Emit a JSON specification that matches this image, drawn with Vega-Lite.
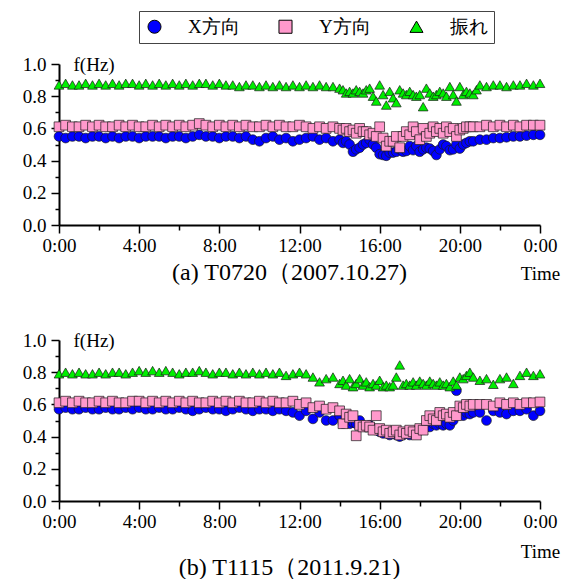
{
 "$schema": "https://vega.github.io/schema/vega-lite/v6.json",
 "background": "white",
 "padding": {"left": 22, "top": 10, "right": 5, "bottom": 2},
 "spacing": 46,
 "config": {
  "view": {"stroke": null},
  "font": "Liberation Serif, Times New Roman, serif",
  "axis": {"grid": false, "labelFont": "Liberation Serif, Times New Roman, serif", "labelFontSize": 19, "labelColor": "black", "titleFont": "Liberation Serif, Times New Roman, serif", "titleFontSize": 19, "titleFontWeight": "normal", "titleColor": "black", "domainColor": "black", "domainWidth": 2, "tickColor": "black", "tickWidth": 1.5},
  "legend": {"labelFont": "Liberation Serif, Times New Roman, serif"},
  "title": {"font": "Liberation Serif, Times New Roman, serif", "fontSize": 24, "fontWeight": "normal", "color": "black"}
 },
 "datasets": {
  "a": [
   {"t":0,"s":"X方向","f":0.55},{"t":0.33,"s":"X方向","f":0.54},{"t":0.67,"s":"X方向","f":0.55},{"t":1,"s":"X方向","f":0.55},{"t":1.33,"s":"X方向","f":0.54},{"t":1.67,"s":"X方向","f":0.55},{"t":2,"s":"X方向","f":0.55},{"t":2.33,"s":"X方向","f":0.54},{"t":2.67,"s":"X方向","f":0.55},{"t":3,"s":"X方向","f":0.54},{"t":3.33,"s":"X方向","f":0.55},{"t":3.67,"s":"X方向","f":0.55},{"t":4,"s":"X方向","f":0.54},{"t":4.33,"s":"X方向","f":0.55},{"t":4.67,"s":"X方向","f":0.55},{"t":5,"s":"X方向","f":0.55},{"t":5.33,"s":"X方向","f":0.54},{"t":5.67,"s":"X方向","f":0.55},{"t":6,"s":"X方向","f":0.55},{"t":6.33,"s":"X方向","f":0.54},{"t":6.67,"s":"X方向","f":0.55},{"t":7,"s":"X方向","f":0.56},{"t":7.33,"s":"X方向","f":0.55},{"t":7.67,"s":"X方向","f":0.55},{"t":8,"s":"X方向","f":0.54},{"t":8.33,"s":"X方向","f":0.55},{"t":8.67,"s":"X方向","f":0.55},{"t":9,"s":"X方向","f":0.54},{"t":9.33,"s":"X方向","f":0.55},{"t":9.67,"s":"X方向","f":0.53},{"t":10,"s":"X方向","f":0.52},{"t":10.33,"s":"X方向","f":0.54},{"t":10.67,"s":"X方向","f":0.55},{"t":11,"s":"X方向","f":0.53},{"t":11.33,"s":"X方向","f":0.54},{"t":11.67,"s":"X方向","f":0.52},{"t":12,"s":"X方向","f":0.53},{"t":12.33,"s":"X方向","f":0.54},{"t":12.67,"s":"X方向","f":0.55},{"t":13,"s":"X方向","f":0.53},{"t":13.33,"s":"X方向","f":0.54},{"t":13.67,"s":"X方向","f":0.52},
   {"t":14,"s":"X方向","f":0.53},{"t":14.17,"s":"X方向","f":0.51},{"t":14.33,"s":"X方向","f":0.52},{"t":14.5,"s":"X方向","f":0.5},{"t":14.67,"s":"X方向","f":0.455},{"t":14.83,"s":"X方向","f":0.47},{"t":15,"s":"X方向","f":0.48},{"t":15.17,"s":"X方向","f":0.5},{"t":15.33,"s":"X方向","f":0.51},{"t":15.5,"s":"X方向","f":0.53},{"t":15.67,"s":"X方向","f":0.5},{"t":15.83,"s":"X方向","f":0.48},{"t":16,"s":"X方向","f":0.44},{"t":16.17,"s":"X方向","f":0.435},{"t":16.33,"s":"X方向","f":0.43},{"t":16.5,"s":"X方向","f":0.45},{"t":16.67,"s":"X方向","f":0.45},{"t":16.83,"s":"X方向","f":0.455},{"t":17,"s":"X方向","f":0.47},{"t":17.17,"s":"X方向","f":0.455},{"t":17.33,"s":"X方向","f":0.46},{"t":17.5,"s":"X方向","f":0.49},{"t":17.67,"s":"X方向","f":0.465},{"t":17.83,"s":"X方向","f":0.49},{"t":18,"s":"X方向","f":0.455},{"t":18.17,"s":"X方向","f":0.47},{"t":18.33,"s":"X方向","f":0.48},{"t":18.5,"s":"X方向","f":0.475},{"t":18.67,"s":"X方向","f":0.46},{"t":18.83,"s":"X方向","f":0.435},{"t":19,"s":"X方向","f":0.47},{"t":19.17,"s":"X方向","f":0.5},{"t":19.33,"s":"X方向","f":0.49},{"t":19.5,"s":"X方向","f":0.465},{"t":19.67,"s":"X方向","f":0.47},{"t":19.83,"s":"X方向","f":0.5},{"t":20,"s":"X方向","f":0.475},{"t":20.17,"s":"X方向","f":0.5},{"t":20.33,"s":"X方向","f":0.51},{"t":20.5,"s":"X方向","f":0.52},{"t":20.67,"s":"X方向","f":0.52},{"t":21,"s":"X方向","f":0.53},{"t":21.33,"s":"X方向","f":0.53},{"t":21.67,"s":"X方向","f":0.54},{"t":22,"s":"X方向","f":0.54},{"t":22.33,"s":"X方向","f":0.545},{"t":22.67,"s":"X方向","f":0.55},{"t":23,"s":"X方向","f":0.55},{"t":23.33,"s":"X方向","f":0.555},{"t":23.67,"s":"X方向","f":0.56},{"t":24,"s":"X方向","f":0.56},
   {"t":0,"s":"Y方向","f":0.61},{"t":0.33,"s":"Y方向","f":0.62},{"t":0.67,"s":"Y方向","f":0.61},{"t":1,"s":"Y方向","f":0.61},{"t":1.33,"s":"Y方向","f":0.62},{"t":1.67,"s":"Y方向","f":0.61},{"t":2,"s":"Y方向","f":0.62},{"t":2.33,"s":"Y方向","f":0.61},{"t":2.67,"s":"Y方向","f":0.61},{"t":3,"s":"Y方向","f":0.62},{"t":3.33,"s":"Y方向","f":0.61},{"t":3.67,"s":"Y方向","f":0.62},{"t":4,"s":"Y方向","f":0.61},{"t":4.33,"s":"Y方向","f":0.61},{"t":4.67,"s":"Y方向","f":0.62},{"t":5,"s":"Y方向","f":0.61},{"t":5.33,"s":"Y方向","f":0.62},{"t":5.67,"s":"Y方向","f":0.61},{"t":6,"s":"Y方向","f":0.62},{"t":6.33,"s":"Y方向","f":0.61},{"t":6.67,"s":"Y方向","f":0.62},{"t":7,"s":"Y方向","f":0.63},{"t":7.33,"s":"Y方向","f":0.62},{"t":7.67,"s":"Y方向","f":0.61},{"t":8,"s":"Y方向","f":0.62},{"t":8.33,"s":"Y方向","f":0.61},{"t":8.67,"s":"Y方向","f":0.62},{"t":9,"s":"Y方向","f":0.61},{"t":9.33,"s":"Y方向","f":0.62},{"t":9.67,"s":"Y方向","f":0.61},{"t":10,"s":"Y方向","f":0.61},{"t":10.33,"s":"Y方向","f":0.62},{"t":10.67,"s":"Y方向","f":0.61},{"t":11,"s":"Y方向","f":0.62},{"t":11.33,"s":"Y方向","f":0.61},{"t":11.67,"s":"Y方向","f":0.61},{"t":12,"s":"Y方向","f":0.62},{"t":12.33,"s":"Y方向","f":0.61},{"t":12.67,"s":"Y方向","f":0.6},{"t":13,"s":"Y方向","f":0.61},{"t":13.33,"s":"Y方向","f":0.6},{"t":13.67,"s":"Y方向","f":0.61},
   {"t":14,"s":"Y方向","f":0.6},{"t":14.17,"s":"Y方向","f":0.59},{"t":14.33,"s":"Y方向","f":0.6},{"t":14.5,"s":"Y方向","f":0.58},{"t":14.67,"s":"Y方向","f":0.59},{"t":14.83,"s":"Y方向","f":0.57},{"t":15,"s":"Y方向","f":0.6},{"t":15.17,"s":"Y方向","f":0.58},{"t":15.33,"s":"Y方向","f":0.58},{"t":15.5,"s":"Y方向","f":0.56},{"t":15.67,"s":"Y方向","f":0.57},{"t":15.83,"s":"Y方向","f":0.55},{"t":16,"s":"Y方向","f":0.61},{"t":16.17,"s":"Y方向","f":0.54},{"t":16.33,"s":"Y方向","f":0.49},{"t":16.5,"s":"Y方向","f":0.52},{"t":16.67,"s":"Y方向","f":0.52},{"t":16.83,"s":"Y方向","f":0.55},{"t":17,"s":"Y方向","f":0.48},{"t":17.17,"s":"Y方向","f":0.55},{"t":17.33,"s":"Y方向","f":0.58},{"t":17.5,"s":"Y方向","f":0.56},{"t":17.67,"s":"Y方向","f":0.61},{"t":17.83,"s":"Y方向","f":0.58},{"t":18,"s":"Y方向","f":0.53},{"t":18.17,"s":"Y方向","f":0.6},{"t":18.33,"s":"Y方向","f":0.55},{"t":18.5,"s":"Y方向","f":0.57},{"t":18.67,"s":"Y方向","f":0.61},{"t":18.83,"s":"Y方向","f":0.58},{"t":19,"s":"Y方向","f":0.6},{"t":19.17,"s":"Y方向","f":0.57},{"t":19.33,"s":"Y方向","f":0.61},{"t":19.5,"s":"Y方向","f":0.58},{"t":19.67,"s":"Y方向","f":0.6},{"t":19.83,"s":"Y方向","f":0.55},{"t":20,"s":"Y方向","f":0.59},{"t":20.17,"s":"Y方向","f":0.6},{"t":20.33,"s":"Y方向","f":0.61},{"t":20.5,"s":"Y方向","f":0.61},{"t":20.67,"s":"Y方向","f":0.61},{"t":21,"s":"Y方向","f":0.61},{"t":21.33,"s":"Y方向","f":0.62},{"t":21.67,"s":"Y方向","f":0.61},{"t":22,"s":"Y方向","f":0.62},{"t":22.33,"s":"Y方向","f":0.61},{"t":22.67,"s":"Y方向","f":0.62},{"t":23,"s":"Y方向","f":0.61},{"t":23.33,"s":"Y方向","f":0.62},{"t":23.67,"s":"Y方向","f":0.62},{"t":24,"s":"Y方向","f":0.62},
   {"t":0,"s":"振れ","f":0.87},{"t":0.33,"s":"振れ","f":0.88},{"t":0.67,"s":"振れ","f":0.87},{"t":1,"s":"振れ","f":0.87},{"t":1.33,"s":"振れ","f":0.88},{"t":1.67,"s":"振れ","f":0.87},{"t":2,"s":"振れ","f":0.88},{"t":2.33,"s":"振れ","f":0.87},{"t":2.67,"s":"振れ","f":0.88},{"t":3,"s":"振れ","f":0.87},{"t":3.33,"s":"振れ","f":0.88},{"t":3.67,"s":"振れ","f":0.88},{"t":4,"s":"振れ","f":0.87},{"t":4.33,"s":"振れ","f":0.88},{"t":4.67,"s":"振れ","f":0.87},{"t":5,"s":"振れ","f":0.88},{"t":5.33,"s":"振れ","f":0.87},{"t":5.67,"s":"振れ","f":0.88},{"t":6,"s":"振れ","f":0.87},{"t":6.33,"s":"振れ","f":0.88},{"t":6.67,"s":"振れ","f":0.87},{"t":7,"s":"振れ","f":0.88},{"t":7.33,"s":"振れ","f":0.88},{"t":7.67,"s":"振れ","f":0.87},{"t":8,"s":"振れ","f":0.88},{"t":8.33,"s":"振れ","f":0.87},{"t":8.67,"s":"振れ","f":0.87},{"t":9,"s":"振れ","f":0.86},{"t":9.33,"s":"振れ","f":0.87},{"t":9.67,"s":"振れ","f":0.87},{"t":10,"s":"振れ","f":0.86},{"t":10.33,"s":"振れ","f":0.87},{"t":10.67,"s":"振れ","f":0.86},{"t":11,"s":"振れ","f":0.87},{"t":11.33,"s":"振れ","f":0.86},{"t":11.67,"s":"振れ","f":0.87},{"t":12,"s":"振れ","f":0.86},{"t":12.33,"s":"振れ","f":0.87},{"t":12.67,"s":"振れ","f":0.86},{"t":13,"s":"振れ","f":0.87},{"t":13.33,"s":"振れ","f":0.86},{"t":13.67,"s":"振れ","f":0.86},
   {"t":14,"s":"振れ","f":0.85},{"t":14.17,"s":"振れ","f":0.84},{"t":14.33,"s":"振れ","f":0.82},{"t":14.5,"s":"振れ","f":0.83},{"t":14.67,"s":"振れ","f":0.82},{"t":14.83,"s":"振れ","f":0.84},{"t":15,"s":"振れ","f":0.83},{"t":15.17,"s":"振れ","f":0.82},{"t":15.33,"s":"振れ","f":0.84},{"t":15.5,"s":"振れ","f":0.85},{"t":15.67,"s":"振れ","f":0.8},{"t":15.83,"s":"振れ","f":0.77},{"t":16,"s":"振れ","f":0.87},{"t":16.17,"s":"振れ","f":0.81},{"t":16.33,"s":"振れ","f":0.745},{"t":16.5,"s":"振れ","f":0.83},{"t":16.67,"s":"振れ","f":0.79},{"t":16.83,"s":"振れ","f":0.76},{"t":17,"s":"振れ","f":0.84},{"t":17.17,"s":"振れ","f":0.82},{"t":17.33,"s":"振れ","f":0.81},{"t":17.5,"s":"振れ","f":0.83},{"t":17.67,"s":"振れ","f":0.81},{"t":17.83,"s":"振れ","f":0.8},{"t":18,"s":"振れ","f":0.81},{"t":18.17,"s":"振れ","f":0.735},{"t":18.33,"s":"振れ","f":0.85},{"t":18.5,"s":"振れ","f":0.82},{"t":18.67,"s":"振れ","f":0.8},{"t":18.83,"s":"振れ","f":0.81},{"t":19,"s":"振れ","f":0.83},{"t":19.17,"s":"振れ","f":0.82},{"t":19.33,"s":"振れ","f":0.8},{"t":19.5,"s":"振れ","f":0.86},{"t":19.67,"s":"振れ","f":0.81},{"t":19.83,"s":"振れ","f":0.77},{"t":20,"s":"振れ","f":0.86},{"t":20.17,"s":"振れ","f":0.81},{"t":20.33,"s":"振れ","f":0.83},{"t":20.5,"s":"振れ","f":0.82},{"t":20.67,"s":"振れ","f":0.81},{"t":20.83,"s":"振れ","f":0.84},{"t":21,"s":"振れ","f":0.87},{"t":21.33,"s":"振れ","f":0.86},{"t":21.67,"s":"振れ","f":0.87},{"t":22,"s":"振れ","f":0.87},{"t":22.33,"s":"振れ","f":0.86},{"t":22.67,"s":"振れ","f":0.87},{"t":23,"s":"振れ","f":0.87},{"t":23.33,"s":"振れ","f":0.88},{"t":23.67,"s":"振れ","f":0.87},{"t":24,"s":"振れ","f":0.88}
  ],
  "b": [
   {"t":0,"s":"X方向","f":0.57},{"t":0.33,"s":"X方向","f":0.58},{"t":0.67,"s":"X方向","f":0.57},{"t":1,"s":"X方向","f":0.57},{"t":1.33,"s":"X方向","f":0.58},{"t":1.67,"s":"X方向","f":0.57},{"t":2,"s":"X方向","f":0.57},{"t":2.33,"s":"X方向","f":0.58},{"t":2.67,"s":"X方向","f":0.57},{"t":3,"s":"X方向","f":0.57},{"t":3.33,"s":"X方向","f":0.58},{"t":3.67,"s":"X方向","f":0.57},{"t":4,"s":"X方向","f":0.58},{"t":4.33,"s":"X方向","f":0.57},{"t":4.67,"s":"X方向","f":0.57},{"t":5,"s":"X方向","f":0.58},{"t":5.33,"s":"X方向","f":0.57},{"t":5.67,"s":"X方向","f":0.57},{"t":6,"s":"X方向","f":0.58},{"t":6.33,"s":"X方向","f":0.57},{"t":6.67,"s":"X方向","f":0.56},{"t":7,"s":"X方向","f":0.57},{"t":7.33,"s":"X方向","f":0.58},{"t":7.67,"s":"X方向","f":0.57},{"t":8,"s":"X方向","f":0.57},{"t":8.33,"s":"X方向","f":0.56},{"t":8.67,"s":"X方向","f":0.57},{"t":9,"s":"X方向","f":0.58},{"t":9.33,"s":"X方向","f":0.57},{"t":9.67,"s":"X方向","f":0.56},{"t":10,"s":"X方向","f":0.57},{"t":10.33,"s":"X方向","f":0.57},{"t":10.67,"s":"X方向","f":0.56},{"t":11,"s":"X方向","f":0.57},{"t":11.33,"s":"X方向","f":0.56},{"t":11.67,"s":"X方向","f":0.55},
   {"t":12,"s":"X方向","f":0.53},{"t":12.33,"s":"X方向","f":0.56},{"t":12.67,"s":"X方向","f":0.51},{"t":13,"s":"X方向","f":0.55},{"t":13.33,"s":"X方向","f":0.5},{"t":13.67,"s":"X方向","f":0.5},{"t":14,"s":"X方向","f":0.53},{"t":14.17,"s":"X方向","f":0.48},{"t":14.33,"s":"X方向","f":0.51},{"t":14.5,"s":"X方向","f":0.48},{"t":14.67,"s":"X方向","f":0.49},{"t":14.83,"s":"X方向","f":0.48},{"t":15,"s":"X方向","f":0.5},{"t":15.17,"s":"X方向","f":0.47},{"t":15.33,"s":"X方向","f":0.46},{"t":15.5,"s":"X方向","f":0.47},{"t":15.67,"s":"X方向","f":0.45},{"t":15.83,"s":"X方向","f":0.44},{"t":16,"s":"X方向","f":0.43},{"t":16.17,"s":"X方向","f":0.42},{"t":16.33,"s":"X方向","f":0.43},{"t":16.5,"s":"X方向","f":0.41},{"t":16.67,"s":"X方向","f":0.42},{"t":16.83,"s":"X方向","f":0.41},{"t":17,"s":"X方向","f":0.4},{"t":17.17,"s":"X方向","f":0.41},{"t":17.33,"s":"X方向","f":0.42},{"t":17.5,"s":"X方向","f":0.41},{"t":17.67,"s":"X方向","f":0.43},{"t":17.83,"s":"X方向","f":0.42},{"t":18,"s":"X方向","f":0.44},{"t":18.17,"s":"X方向","f":0.45},{"t":18.33,"s":"X方向","f":0.47},{"t":18.5,"s":"X方向","f":0.46},{"t":18.67,"s":"X方向","f":0.48},{"t":18.83,"s":"X方向","f":0.47},{"t":19,"s":"X方向","f":0.48},{"t":19.17,"s":"X方向","f":0.47},{"t":19.33,"s":"X方向","f":0.48},{"t":19.5,"s":"X方向","f":0.47},{"t":19.67,"s":"X方向","f":0.5},{"t":19.83,"s":"X方向","f":0.685},{"t":20,"s":"X方向","f":0.54},{"t":20.17,"s":"X方向","f":0.53},{"t":20.33,"s":"X方向","f":0.55},{"t":20.5,"s":"X方向","f":0.54},{"t":20.67,"s":"X方向","f":0.55},{"t":21,"s":"X方向","f":0.55},{"t":21.33,"s":"X方向","f":0.5},{"t":21.67,"s":"X方向","f":0.56},{"t":22,"s":"X方向","f":0.55},{"t":22.33,"s":"X方向","f":0.54},{"t":22.67,"s":"X方向","f":0.56},{"t":23,"s":"X方向","f":0.56},{"t":23.33,"s":"X方向","f":0.57},{"t":23.67,"s":"X方向","f":0.53},{"t":24,"s":"X方向","f":0.56},
   {"t":0,"s":"Y方向","f":0.61},{"t":0.33,"s":"Y方向","f":0.62},{"t":0.67,"s":"Y方向","f":0.61},{"t":1,"s":"Y方向","f":0.62},{"t":1.33,"s":"Y方向","f":0.61},{"t":1.67,"s":"Y方向","f":0.61},{"t":2,"s":"Y方向","f":0.62},{"t":2.33,"s":"Y方向","f":0.61},{"t":2.67,"s":"Y方向","f":0.62},{"t":3,"s":"Y方向","f":0.61},{"t":3.33,"s":"Y方向","f":0.61},{"t":3.67,"s":"Y方向","f":0.62},{"t":4,"s":"Y方向","f":0.62},{"t":4.33,"s":"Y方向","f":0.61},{"t":4.67,"s":"Y方向","f":0.62},{"t":5,"s":"Y方向","f":0.61},{"t":5.33,"s":"Y方向","f":0.62},{"t":5.67,"s":"Y方向","f":0.61},{"t":6,"s":"Y方向","f":0.62},{"t":6.33,"s":"Y方向","f":0.61},{"t":6.67,"s":"Y方向","f":0.62},{"t":7,"s":"Y方向","f":0.61},{"t":7.33,"s":"Y方向","f":0.61},{"t":7.67,"s":"Y方向","f":0.62},{"t":8,"s":"Y方向","f":0.61},{"t":8.33,"s":"Y方向","f":0.62},{"t":8.67,"s":"Y方向","f":0.61},{"t":9,"s":"Y方向","f":0.62},{"t":9.33,"s":"Y方向","f":0.61},{"t":9.67,"s":"Y方向","f":0.61},{"t":10,"s":"Y方向","f":0.62},{"t":10.33,"s":"Y方向","f":0.61},{"t":10.67,"s":"Y方向","f":0.62},{"t":11,"s":"Y方向","f":0.61},{"t":11.33,"s":"Y方向","f":0.61},{"t":11.67,"s":"Y方向","f":0.62},
   {"t":12,"s":"Y方向","f":0.6},{"t":12.33,"s":"Y方向","f":0.61},{"t":12.67,"s":"Y方向","f":0.58},{"t":13,"s":"Y方向","f":0.59},{"t":13.33,"s":"Y方向","f":0.57},{"t":13.67,"s":"Y方向","f":0.58},{"t":14,"s":"Y方向","f":0.56},{"t":14.17,"s":"Y方向","f":0.48},{"t":14.33,"s":"Y方向","f":0.54},{"t":14.5,"s":"Y方向","f":0.52},{"t":14.67,"s":"Y方向","f":0.53},{"t":14.83,"s":"Y方向","f":0.405},{"t":15,"s":"Y方向","f":0.47},{"t":15.17,"s":"Y方向","f":0.46},{"t":15.33,"s":"Y方向","f":0.47},{"t":15.5,"s":"Y方向","f":0.46},{"t":15.67,"s":"Y方向","f":0.44},{"t":15.83,"s":"Y方向","f":0.53},{"t":16,"s":"Y方向","f":0.45},{"t":16.17,"s":"Y方向","f":0.43},{"t":16.33,"s":"Y方向","f":0.44},{"t":16.5,"s":"Y方向","f":0.42},{"t":16.67,"s":"Y方向","f":0.43},{"t":16.83,"s":"Y方向","f":0.44},{"t":17,"s":"Y方向","f":0.41},{"t":17.17,"s":"Y方向","f":0.43},{"t":17.33,"s":"Y方向","f":0.42},{"t":17.5,"s":"Y方向","f":0.44},{"t":17.67,"s":"Y方向","f":0.43},{"t":17.83,"s":"Y方向","f":0.41},{"t":18,"s":"Y方向","f":0.45},{"t":18.17,"s":"Y方向","f":0.44},{"t":18.33,"s":"Y方向","f":0.5},{"t":18.5,"s":"Y方向","f":0.53},{"t":18.67,"s":"Y方向","f":0.51},{"t":18.83,"s":"Y方向","f":0.5},{"t":19,"s":"Y方向","f":0.55},{"t":19.17,"s":"Y方向","f":0.53},{"t":19.33,"s":"Y方向","f":0.54},{"t":19.5,"s":"Y方向","f":0.52},{"t":19.67,"s":"Y方向","f":0.55},{"t":19.83,"s":"Y方向","f":0.53},{"t":20,"s":"Y方向","f":0.59},{"t":20.17,"s":"Y方向","f":0.58},{"t":20.33,"s":"Y方向","f":0.6},{"t":20.5,"s":"Y方向","f":0.59},{"t":20.67,"s":"Y方向","f":0.6},{"t":21,"s":"Y方向","f":0.6},{"t":21.33,"s":"Y方向","f":0.6},{"t":21.67,"s":"Y方向","f":0.59},{"t":22,"s":"Y方向","f":0.61},{"t":22.33,"s":"Y方向","f":0.6},{"t":22.67,"s":"Y方向","f":0.61},{"t":23,"s":"Y方向","f":0.6},{"t":23.33,"s":"Y方向","f":0.61},{"t":23.67,"s":"Y方向","f":0.61},{"t":24,"s":"Y方向","f":0.615},
   {"t":0,"s":"振れ","f":0.79},{"t":0.33,"s":"振れ","f":0.8},{"t":0.67,"s":"振れ","f":0.79},{"t":1,"s":"振れ","f":0.8},{"t":1.33,"s":"振れ","f":0.79},{"t":1.67,"s":"振れ","f":0.79},{"t":2,"s":"振れ","f":0.8},{"t":2.33,"s":"振れ","f":0.79},{"t":2.67,"s":"振れ","f":0.8},{"t":3,"s":"振れ","f":0.8},{"t":3.33,"s":"振れ","f":0.79},{"t":3.67,"s":"振れ","f":0.8},{"t":4,"s":"振れ","f":0.81},{"t":4.33,"s":"振れ","f":0.8},{"t":4.67,"s":"振れ","f":0.81},{"t":5,"s":"振れ","f":0.8},{"t":5.33,"s":"振れ","f":0.81},{"t":5.67,"s":"振れ","f":0.8},{"t":6,"s":"振れ","f":0.79},{"t":6.33,"s":"振れ","f":0.8},{"t":6.67,"s":"振れ","f":0.8},{"t":7,"s":"振れ","f":0.81},{"t":7.33,"s":"振れ","f":0.8},{"t":7.67,"s":"振れ","f":0.79},{"t":8,"s":"振れ","f":0.8},{"t":8.33,"s":"振れ","f":0.8},{"t":8.67,"s":"振れ","f":0.79},{"t":9,"s":"振れ","f":0.8},{"t":9.33,"s":"振れ","f":0.79},{"t":9.67,"s":"振れ","f":0.8},{"t":10,"s":"振れ","f":0.79},{"t":10.33,"s":"振れ","f":0.8},{"t":10.67,"s":"振れ","f":0.79},{"t":11,"s":"振れ","f":0.8},{"t":11.33,"s":"振れ","f":0.78},{"t":11.67,"s":"振れ","f":0.79},
   {"t":12,"s":"振れ","f":0.8},{"t":12.33,"s":"振れ","f":0.79},{"t":12.67,"s":"振れ","f":0.77},{"t":13,"s":"振れ","f":0.74},{"t":13.33,"s":"振れ","f":0.76},{"t":13.67,"s":"振れ","f":0.77},{"t":14,"s":"振れ","f":0.73},{"t":14.17,"s":"振れ","f":0.75},{"t":14.33,"s":"振れ","f":0.72},{"t":14.5,"s":"振れ","f":0.76},{"t":14.67,"s":"振れ","f":0.71},{"t":14.83,"s":"振れ","f":0.73},{"t":15,"s":"振れ","f":0.76},{"t":15.17,"s":"振れ","f":0.72},{"t":15.33,"s":"振れ","f":0.74},{"t":15.5,"s":"振れ","f":0.71},{"t":15.67,"s":"振れ","f":0.73},{"t":15.83,"s":"振れ","f":0.72},{"t":16,"s":"振れ","f":0.75},{"t":16.17,"s":"振れ","f":0.71},{"t":16.33,"s":"振れ","f":0.72},{"t":16.5,"s":"振れ","f":0.71},{"t":16.67,"s":"振れ","f":0.72},{"t":16.83,"s":"振れ","f":0.77},{"t":17,"s":"振れ","f":0.845},{"t":17.17,"s":"振れ","f":0.72},{"t":17.33,"s":"振れ","f":0.73},{"t":17.5,"s":"振れ","f":0.72},{"t":17.67,"s":"振れ","f":0.74},{"t":17.83,"s":"振れ","f":0.72},{"t":18,"s":"振れ","f":0.745},{"t":18.17,"s":"振れ","f":0.73},{"t":18.33,"s":"振れ","f":0.72},{"t":18.5,"s":"振れ","f":0.745},{"t":18.67,"s":"振れ","f":0.73},{"t":18.83,"s":"振れ","f":0.72},{"t":19,"s":"振れ","f":0.74},{"t":19.17,"s":"振れ","f":0.72},{"t":19.33,"s":"振れ","f":0.73},{"t":19.5,"s":"振れ","f":0.71},{"t":19.67,"s":"振れ","f":0.745},{"t":19.83,"s":"振れ","f":0.72},{"t":20,"s":"振れ","f":0.77},{"t":20.17,"s":"振れ","f":0.76},{"t":20.33,"s":"振れ","f":0.78},{"t":20.5,"s":"振れ","f":0.8},{"t":20.67,"s":"振れ","f":0.77},{"t":21,"s":"振れ","f":0.75},{"t":21.33,"s":"振れ","f":0.76},{"t":21.67,"s":"振れ","f":0.725},{"t":22,"s":"振れ","f":0.76},{"t":22.33,"s":"振れ","f":0.77},{"t":22.67,"s":"振れ","f":0.73},{"t":23,"s":"振れ","f":0.78},{"t":23.33,"s":"振れ","f":0.8},{"t":23.67,"s":"振れ","f":0.78},{"t":24,"s":"振れ","f":0.79}
  ]
 },
 "vconcat": [
  {
   "width": 481, "height": 161,
   "data": {"name": "a"},
   "title": {"text": "(a) T0720（2007.10.27)", "orient": "bottom", "offset": -22, "dx": -10},
   "mark": {"type": "point", "filled": true, "size": 95, "stroke": "#1a1a1a", "strokeWidth": 0.7, "opacity": 1},
   "encoding": {
    "x": {"field": "t", "type": "quantitative", "scale": {"domain": [0, 24], "nice": false, "zero": false},
     "axis": {"values": [0,2,4,6,8,10,12,14,16,18,20,22,24], "labelExpr": "datum.value % 4 == 0 ? (datum.value % 24) + ':00' : ''", "labelFont": "Liberation Serif, Times New Roman, serif", "tickSize": {"condition": {"test": "datum.value % 4 == 0", "value": 8}, "value": 5}, "labelPadding": 3, "labelFlush": false, "title": "Time", "titleFont": "Liberation Serif, Times New Roman, serif", "titleFontWeight": "normal", "titleX": 481, "titleY": 48, "titleAlign": "center", "titleBaseline": "middle"}},
    "y": {"field": "f", "type": "quantitative", "scale": {"domain": [0, 1], "nice": false},
     "axis": {"values": [0,0.1,0.2,0.3,0.4,0.5,0.6,0.7,0.8,0.9,1.0], "labelExpr": "round(datum.value*10) % 2 == 0 ? format(datum.value, '.1f') : ''", "labelFont": "Liberation Serif, Times New Roman, serif", "tickSize": {"condition": {"test": "round(datum.value*10) % 2 == 0", "value": 8}, "value": 4}, "labelPadding": 5, "labelFlush": false, "title": "f(Hz)", "titleFont": "Liberation Serif, Times New Roman, serif", "titleFontWeight": "normal", "titleAngle": 0, "titleX": 14, "titleY": 0, "titleAlign": "left", "titleBaseline": "middle"}},
    "color": {"field": "s", "type": "nominal", "scale": {"domain": ["X方向", "Y方向", "振れ"], "range": ["#0000FF", "#FF99CC", "#00EE00"]},
     "legend": {"orient": "none", "legendX": 80, "legendY": -53, "direction": "horizontal", "title": null, "labelFont": "Liberation Serif, Times New Roman, serif", "labelFontSize": 19, "labelColor": "black", "strokeColor": "#444", "padding": 6, "columnPadding": 36, "labelOffset": 24, "symbolSize": 170, "symbolStrokeColor": "black", "symbolStrokeWidth": 1}},
    "shape": {"field": "s", "type": "nominal", "scale": {"domain": ["X方向", "Y方向", "振れ"], "range": ["circle", "square", "triangle-up"]}}
   }
  },
  {
   "width": 481, "height": 161,
   "data": {"name": "b"},
   "title": {"text": "(b) T1115（2011.9.21)", "orient": "bottom", "offset": -5, "dx": -10},
   "mark": {"type": "point", "filled": true, "size": 95, "stroke": "#1a1a1a", "strokeWidth": 0.7, "opacity": 1},
   "encoding": {
    "x": {"field": "t", "type": "quantitative", "scale": {"domain": [0, 24], "nice": false, "zero": false},
     "axis": {"values": [0,2,4,6,8,10,12,14,16,18,20,22,24], "labelExpr": "datum.value % 4 == 0 ? (datum.value % 24) + ':00' : ''", "labelFont": "Liberation Serif, Times New Roman, serif", "tickSize": {"condition": {"test": "datum.value % 4 == 0", "value": 8}, "value": 5}, "labelPadding": 3, "labelFlush": false, "title": "Time", "titleFont": "Liberation Serif, Times New Roman, serif", "titleFontWeight": "normal", "titleX": 481, "titleY": 50, "titleAlign": "center", "titleBaseline": "middle"}},
    "y": {"field": "f", "type": "quantitative", "scale": {"domain": [0, 1], "nice": false},
     "axis": {"values": [0,0.1,0.2,0.3,0.4,0.5,0.6,0.7,0.8,0.9,1.0], "labelExpr": "round(datum.value*10) % 2 == 0 ? format(datum.value, '.1f') : ''", "labelFont": "Liberation Serif, Times New Roman, serif", "tickSize": {"condition": {"test": "round(datum.value*10) % 2 == 0", "value": 8}, "value": 4}, "labelPadding": 5, "labelFlush": false, "title": "f(Hz)", "titleFont": "Liberation Serif, Times New Roman, serif", "titleFontWeight": "normal", "titleAngle": 0, "titleX": 14, "titleY": 0, "titleAlign": "left", "titleBaseline": "middle"}},
    "color": {"field": "s", "type": "nominal", "scale": {"domain": ["X方向", "Y方向", "振れ"], "range": ["#0000FF", "#FF99CC", "#00EE00"]}},
    "shape": {"field": "s", "type": "nominal", "scale": {"domain": ["X方向", "Y方向", "振れ"], "range": ["circle", "square", "triangle-up"]}}
   }
  }
 ]
}
